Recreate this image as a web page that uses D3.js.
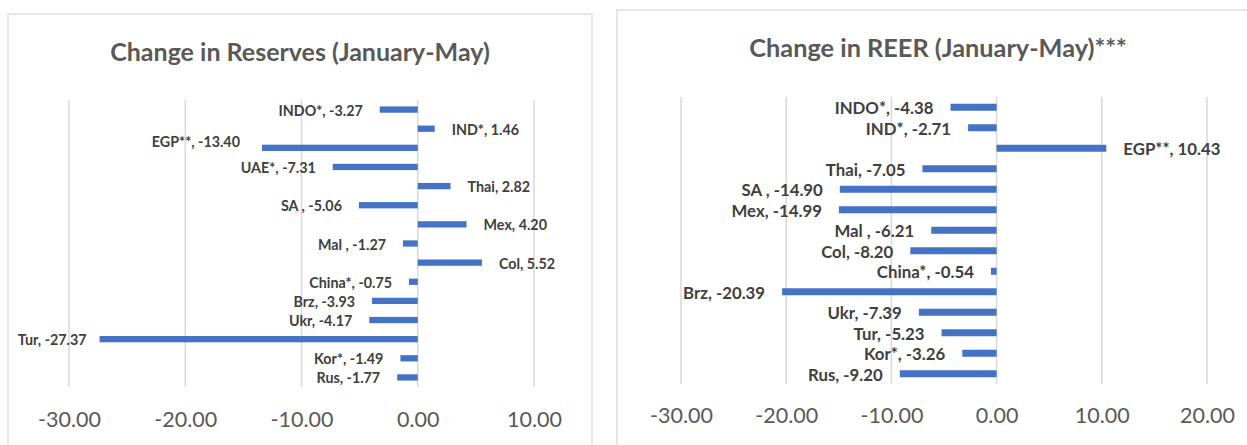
<!DOCTYPE html>
<html><head><meta charset="utf-8">
<script src="https://cdn.jsdelivr.net/npm/d3@7"></script>
<style>
html,body{margin:0;padding:0;background:#fff;}
svg{display:block;}
text{font-family:Lato,"Open Sans",sans-serif;}
</style></head>
<body>
<svg id="c" width="1247" height="445"></svg>
<script>
// ---- data ----
const resTitle = "Change in Reserves (January-May)";
const resCats = ["INDO*","IND*","EGP**","UAE*","Thai","SA ","Mex","Mal ","Col","China*","Brz","Ukr","Tur","Kor*","Rus"];
const resVals = [-3.27,1.46,-13.40,-7.31,2.82,-5.06,4.20,-1.27,5.52,-0.75,-3.93,-4.17,-27.37,-1.49,-1.77];
const resTicks = [-30,-20,-10,0,10];

const reerTitle = "Change in REER (January-May)***";
const reerCats = ["INDO*","IND*","EGP**","Thai","SA ","Mex","Mal ","Col","China*","Brz","Ukr","Tur","Kor*","Rus"];
const reerVals = [-4.38,-2.71,10.43,-7.05,-14.90,-14.99,-6.21,-8.20,-0.54,-20.39,-7.39,-5.23,-3.26,-9.20];
const reerTicks = [-30,-20,-10,0,10,20];

const svg = d3.select("#c");
const fmt = v => (+v).toFixed(2);   // plain hyphen-minus, as in the original
const BAR = "#4472C4", GRID = "#d9d9d9", TXT = "#404040", TTL = "#595959";

function panel(o){
  const g = svg.append("g");
  g.append("rect").attr("x",o.box[0]).attr("y",o.box[1]).attr("width",o.box[2]).attr("height",o.box[3])
    .attr("fill","#fff").attr("stroke",GRID).attr("stroke-width",1.3);
  g.append("text").attr("x",o.titleX).attr("y",o.titleY).attr("text-anchor","middle")
    .attr("font-size",o.titleSize).attr("font-weight",700).attr("fill",TTL).text(o.title);
  const x = d3.scaleLinear().domain(o.domain).range(o.xr);
  const y = d3.scaleBand().domain(o.cats).range(o.yr);
  g.append("g").selectAll("line").data(o.ticks).join("line")
    .attr("x1",d=>x(d)).attr("x2",d=>x(d)).attr("y1",o.yr[0]).attr("y2",o.yr[1])
    .attr("stroke",GRID).attr("stroke-width",1.5);
  const ax = g.append("g").attr("transform",`translate(0,${o.tickY})`)
    .call(d3.axisBottom(x).tickValues(o.ticks).tickFormat(fmt).tickSize(0));
  ax.select(".domain").remove();
  ax.selectAll("text").attr("y",0).attr("dy","0.35em").attr("font-size",o.tickSize)
    .attr("fill",TTL).style("font-family","Lato,'Open Sans',sans-serif");
  const data = o.cats.map((c,i)=>({c, v:o.vals[i]}));
  const bw = y.bandwidth();
  g.append("g").selectAll("rect").data(data).join("rect")
    .attr("x",d=>x(Math.min(0,d.v))).attr("width",d=>Math.abs(x(d.v)-x(0)))
    .attr("y",d=>y(d.c)+bw/2-o.barH/2).attr("height",o.barH).attr("fill",BAR);
  g.append("g").selectAll("text").data(data).join("text")
    .attr("x",d=>{const n=(o.nudge[d.c]||[0,0]); return x(d.v)+(d.v<0?-o.gap:o.gap)+n[0];})
    .attr("y",d=>{const n=(o.nudge[d.c]||[0,0]); return y(d.c)+bw/2+1+n[1];})
    .attr("dy","0.35em").attr("text-anchor",d=>d.v<0?"end":"start")
    .attr("font-size",o.labSize).attr("font-weight",700).attr("fill",TXT)
    .text(d=>`${d.c}, ${fmt(d.v)}`);
}

panel({box:[8,14,584,460], title:resTitle, titleX:300, titleY:61, titleSize:25,
  domain:[-30,10], xr:[69,534], cats:resCats, vals:resVals, yr:[100,387], ticks:resTicks,
  tickY:419, tickSize:21.5, barH:6.3, gap:17, labSize:14.3,
  nudge:{"EGP**":[-5,-7],"Tur":[4,0]}});

panel({box:[617,10,660,460], title:reerTitle, titleX:938, titleY:57, titleSize:25.3,
  domain:[-30,20], xr:[681,1207], cats:reerCats, vals:reerVals, yr:[97,384], ticks:reerTicks,
  tickY:415, tickSize:21.5, barH:7, gap:17, labSize:16.8, nudge:{}});
</script>
</body></html>
